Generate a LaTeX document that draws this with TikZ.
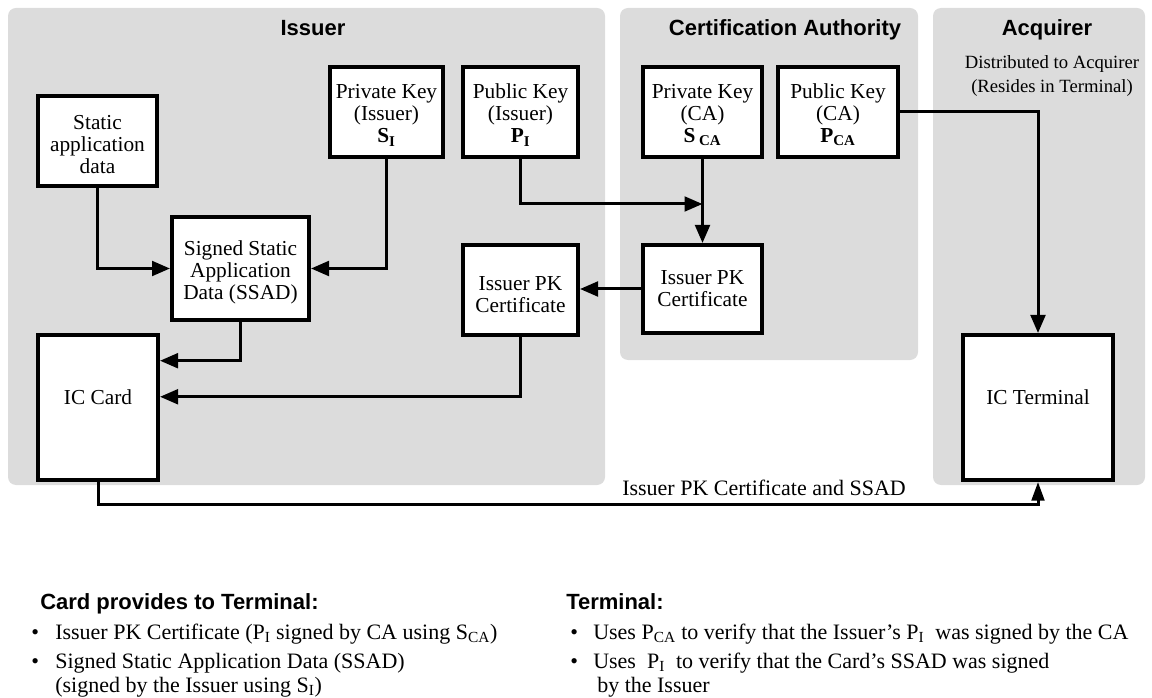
\documentclass[tikz,border=0pt]{standalone}
\usepackage{fontspec}
\setmainfont{Liberation Serif}
\setsansfont{Liberation Sans}
\usetikzlibrary{arrows.meta,calc}
\definecolor{panelgray}{HTML}{DCDCDC}
\newcommand\lowsub[1]{\textsubscript{#1}}
% invisible strut that lowers the text block inside a box
\newcommand\drop[1]{\rule{0pt}{#1}}
\tikzset{
  panel/.style={fill=panelgray, draw=none, rounded corners=6pt},
  box/.style={draw, line width=3pt, fill=white, align=center, inner sep=0pt,
    font=\fontsize{16}{16.5}\selectfont},
  paneltitle/.style={anchor=base, inner sep=0pt, font=\sffamily\bfseries\fontsize{16.5}{18}\selectfont},
  note/.style={align=center, font=\fontsize{14}{18.5}\selectfont},
  flow/.style={line width=2.25pt, -{Triangle[length=13.5pt,width=11pt]}},
  flowthin/.style={line width=2.25pt, -{Triangle[length=14pt,width=9.5pt]}},
  txt/.style={anchor=base west, inner sep=0pt, font=\fontsize{16.5}{18}\selectfont},
  head/.style={anchor=base west, inner sep=0pt, font=\sffamily\bfseries\fontsize{16.5}{18}\selectfont},
}
\begin{document}
\begin{tikzpicture}[x=0.75pt,y=-0.75pt]
\useasboundingbox (0,0) rectangle (1152,698);

% domains
\fill[panel] (8,8) rectangle (605,485);
\fill[panel] (620,8) rectangle (918,360);
\fill[panel] (933,8) rectangle (1145,485);

\node[paneltitle] (tIss) at (313,36) {Issuer};
\node[paneltitle] (tCA) at (785,36) {Certification Authority};
\node[paneltitle] (tAcq) at (1047,36) {Acquirer};
\node[note] (dist) at (1052,76) {Distributed to Acquirer\\(Resides in Terminal)};

% issuer side
\node[box, minimum width=89.25pt, minimum height=67.5pt] (sad) at (97.5,141)
  {\drop{15.5pt}Static\\application\\data};
\node[box, minimum width=84.75pt, minimum height=67.5pt] (privI) at (386.5,112)
  {\drop{15.5pt}Private Key\\(Issuer)\\\textbf{S\lowsub{I}}};
\node[box, minimum width=86.25pt, minimum height=67.5pt] (pubI) at (520.5,112)
  {\drop{15.5pt}Public Key\\(Issuer)\\\textbf{P\lowsub{I}}};
\node[box, minimum width=102.75pt, minimum height=77.25pt] (ssad) at (240.5,268.5)
  {\drop{17pt}Signed Static\\Application\\Data (SSAD)};
\node[box, minimum width=86.25pt, minimum height=67.5pt] (certI) at (520.5,290)
  {\drop{17pt}Issuer PK\\Certificate};
\node[box, minimum width=90pt, minimum height=108.75pt] (card) at (98,407.5)
  {IC Card\\[-1.5pt]\mbox{}};

% certification authority
\node[box, minimum width=89.25pt, minimum height=67.5pt] (privCA) at (702.5,112)
  {\drop{15.5pt}Private Key\\(CA)\\\textbf{S\,\lowsub{CA}}};
\node[box, minimum width=90pt, minimum height=67.5pt] (pubCA) at (838,112)
  {\drop{15.5pt}Public Key\\(CA)\\\textbf{P\lowsub{CA}}};
\node[box, minimum width=89.25pt, minimum height=66pt] (certCA) at (702.5,289)
  {Issuer PK\\Certificate};

% acquirer
\node[box, minimum width=112.5pt, minimum height=108.75pt] (term) at (1038,407.5)
  {IC Terminal\\[-1.5pt]\mbox{}};

% connectors
\coordinate (join) at (702.5,204);
\draw[flow] (sad.south) |- (ssad.west);
\draw[flow] (privI.south) |- (ssad.east);
\draw[flow] (pubI.south) |- (join);
\draw[flow] (privCA.south) -- (certCA.north);
\draw[flow] (certCA.west) -- (certI.east |- certCA.west);
\draw[flow] (ssad.south) |- ($(card.north east)!0.186!(card.south east)$);
\draw[flow] (certI.south) |- ($(card.north east)!0.428!(card.south east)$);
\draw[flow] (pubCA.east) -| (term.north);
\draw[flowthin] (card.south) -- ++(0,22) coordinate (low) -| (term.south);
\node[font=\fontsize{16.5}{18}\selectfont] (lbl) at (764,488) {Issuer PK Certificate and SSAD};

% summary text
\node[head] (hCard) at (40,609) {Card provides to Terminal:};
\node[txt] (b1) at (31,639) {•};
\node[txt] (c1) at (55,639) {Issuer PK Certificate (P\lowsub{I} signed by CA using S\lowsub{CA})};
\node[txt] (b2) at (31,668) {•};
\node[txt] (c2) at (55,668) {Signed Static Application Data (SSAD)};
\node[txt] (c3) at (55,692) {(signed by the Issuer using S\lowsub{I})};

\node[head] (hTerm) at (566,609) {Terminal:};
\node[txt] (b3) at (570,639) {•};
\node[txt] (t1) at (593,639) {Uses P\lowsub{CA} to verify that the Issuer’s P\lowsub{I}\ \ was signed by the CA};
\node[txt] (b4) at (570,668) {•};
\node[txt] (t2) at (593,668) {Uses\ \ P\lowsub{I}\ \ to verify that the Card’s SSAD was signed};
\node[txt] (t3) at (597,692) {by the Issuer};
\end{tikzpicture}
\end{document}
